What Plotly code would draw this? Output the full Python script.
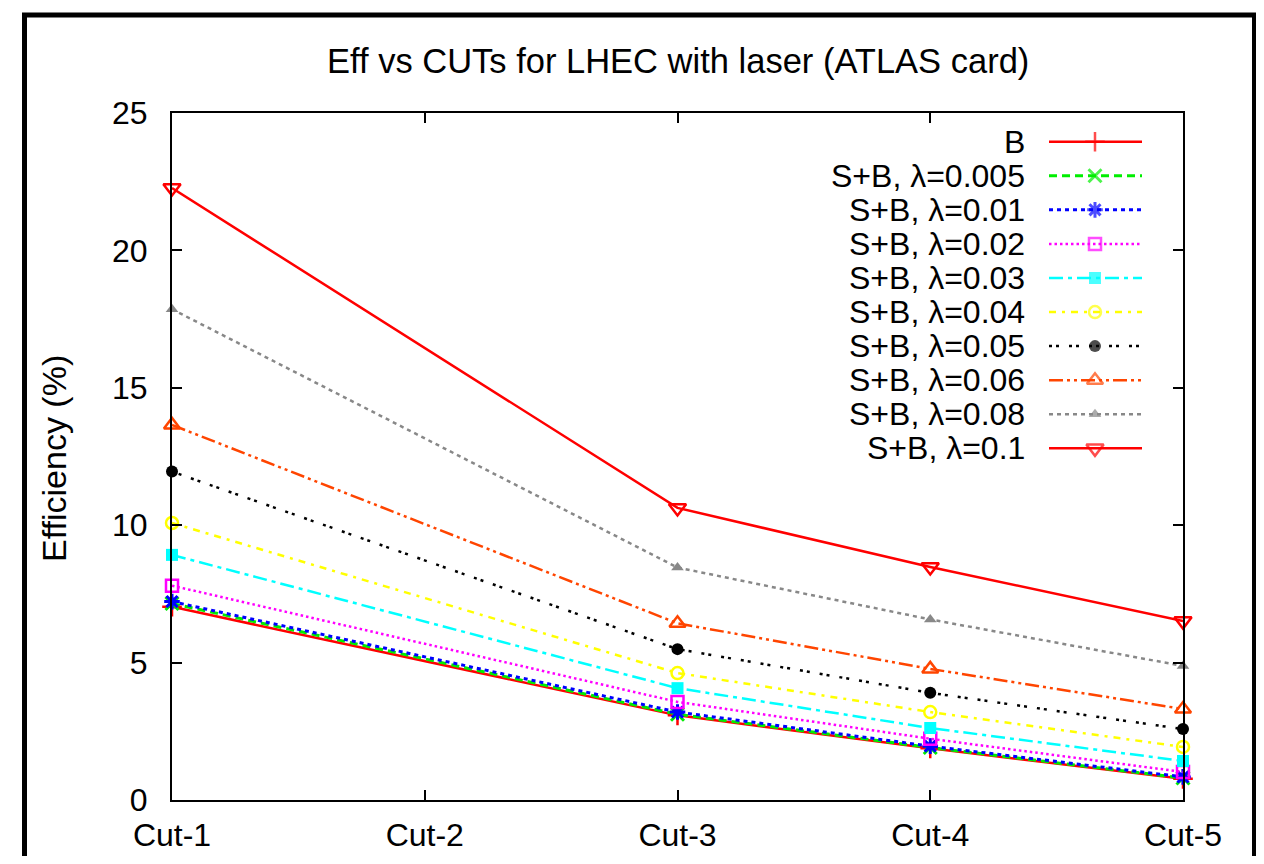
import plotly.graph_objects as go

cuts = ["Cut-1", "Cut-2", "Cut-3", "Cut-4", "Cut-5"]
series_names = ["B", "S+B, λ=0.005", "S+B, λ=0.01", "S+B, λ=0.02", "S+B, λ=0.03",
                "S+B, λ=0.04", "S+B, λ=0.05", "S+B, λ=0.06", "S+B, λ=0.08", "S+B, λ=0.1"]
eff_B = [7.03, None, 3.08, 1.88, 0.77]
eff_l0005 = [7.15, None, 3.12, 1.91, 0.80]
eff_l001 = [7.22, None, 3.20, 1.96, 0.84]
eff_l002 = [7.80, None, 3.57, 2.23, 1.02]
eff_l003 = [8.92, None, 4.07, 2.62, 1.42]
eff_l004 = [10.08, None, 4.62, 3.20, 1.93]
eff_l005 = [11.95, None, 5.49, 3.90, 2.58]
eff_l006 = [13.65, None, 6.43, 4.77, 3.31]
eff_l008 = [17.86, None, 8.46, 6.57, 4.88]
eff_l01 = [22.27, None, 10.63, 8.48, 6.51]
all_series = [eff_B, eff_l0005, eff_l001, eff_l002, eff_l003,
              eff_l004, eff_l005, eff_l006, eff_l008, eff_l01]
y_ticks = [0, 5, 10, 15, 20, 25]

styles = [
    dict(color="#ff0000", dash="solid", width=2.5, symbol="cross-thin-open", size=14, mw=2.5),
    dict(color="#00ee00", dash="8px,5px", width=3, symbol="x-thin-open", size=13, mw=3),
    dict(color="#0000ff", dash="4px,4px", width=3, symbol="asterisk-open", size=13, mw=3),
    dict(color="#ff00ff", dash="2.5px,3px", width=2.5, symbol="square-open", size=12, mw=2.5),
    dict(color="#00ffff", dash="14px,5px,4px,5px", width=2.5, symbol="square", size=12, mw=0),
    dict(color="#ffff00", dash="7px,6px,3px,6px", width=2.5, symbol="circle-open", size=12, mw=2.5),
    dict(color="#000000", dash="3px,4px,3px,10px", width=2.5, symbol="circle", size=12, mw=0),
    dict(color="#ff4500", dash="14px,4px,3px,4px,3px,4px", width=2.5, symbol="triangle-up-open", size=14, mw=2.5),
    dict(color="#888888", dash="4px,4px", width=2.5, symbol="triangle-up", size=11, mw=0),
    dict(color="#ff0000", dash="solid", width=2.5, symbol="triangle-down-open", size=15, mw=2.5),
]

# page geometry (browser body has 8px margin)
OFF = 8
W, H = 1264 - 2 * OFF, 864 - 2 * OFF
PL, PR, PT, PB = 172, 1183, 113, 800
FONT = "Liberation Sans, Arial, Helvetica, sans-serif"


def px(x):
    return (x - PL) / (PR - PL)


def py(y):
    return (PB - y) / (PB - PT)


fig = go.Figure()

for name, vals, st in zip(series_names, all_series, styles):
    fig.add_trace(go.Scatter(
        x=cuts, y=vals, name=name, mode="lines+markers", connectgaps=True,
        cliponaxis=False, showlegend=False,
        line=dict(color=st["color"], dash=st["dash"], width=st["width"]),
        marker=dict(symbol=st["symbol"], size=st["size"], color=st["color"],
                    line=dict(color=st["color"], width=st["mw"])),
    ))

# manual gnuplot-style key (text right-aligned, sample on the right)
row0, drow = 141.7, 34.07
for i, (name, st) in enumerate(zip(series_names, styles)):
    ry = row0 + i * drow
    fig.add_trace(go.Scatter(
        x=[1049, 1095, 1142], y=[ry, ry, ry], xaxis="x2", yaxis="y2",
        mode="lines+markers", showlegend=False, hoverinfo="skip", cliponaxis=False,
        line=dict(color=st["color"], dash=st["dash"], width=st["width"]),
        marker=dict(symbol=st["symbol"], size=[0, st["size"], 0], color=st["color"],
                    line=dict(color=st["color"], width=st["mw"])),
    ))
    fig.add_annotation(x=1027, y=ry, xref="x2", yref="y2", text=name, showarrow=False,
                       xanchor="right", yanchor="middle",
                       font=dict(family=FONT, size=32, color="black"))

# title and y label
fig.add_annotation(x=0.5, y=py(61), xref="paper", yref="paper",
                   text="Eff vs CUTs for LHEC with laser (ATLAS card)", showarrow=False,
                   xanchor="center", yanchor="middle",
                   font=dict(family=FONT, size=34.5, color="black"))
fig.add_annotation(x=px(54), y=py(459), xref="paper", yref="paper",
                   text="Efficiency (%)", showarrow=False, textangle=-90,
                   xanchor="center", yanchor="middle",
                   font=dict(family=FONT, size=34, color="black"))

# outer frame
fig.add_shape(type="rect", xref="paper", yref="paper",
              x0=px(24.5), x1=px(1254.5), y0=py(960), y1=py(15),
              line=dict(color="black", width=5), layer="above")

fig.update_layout(
    width=W, height=H,
    margin=dict(l=PL - OFF, r=OFF + W - PR, t=PT - OFF, b=OFF + H - PB, pad=0,
                autoexpand=False),
    paper_bgcolor="white", plot_bgcolor="white",
    font=dict(family=FONT, size=32, color="black"),
    xaxis=dict(type="category", categoryorder="array", categoryarray=cuts,
               range=[0, 4], showgrid=False, zeroline=False, automargin=False,
               showline=True, linecolor="black", linewidth=2, mirror="ticks",
               ticks="inside", ticklen=10, tickwidth=2, tickcolor="black",
               ticklabelstandoff=6, tickfont=dict(family=FONT, size=32)),
    yaxis=dict(range=[0, 25], tickvals=y_ticks, showgrid=False, zeroline=False,
               automargin=False,
               showline=True, linecolor="black", linewidth=2, mirror="ticks",
               ticks="inside", ticklen=10, tickwidth=2, tickcolor="black",
               ticklabelstandoff=16, tickfont=dict(family=FONT, size=32)),
    xaxis2=dict(overlaying="x", range=[PL, PR], visible=False, fixedrange=True),
    yaxis2=dict(overlaying="y", range=[PB, PT], visible=False, fixedrange=True),
    showlegend=False,
)

fig.write_html("out.html")
